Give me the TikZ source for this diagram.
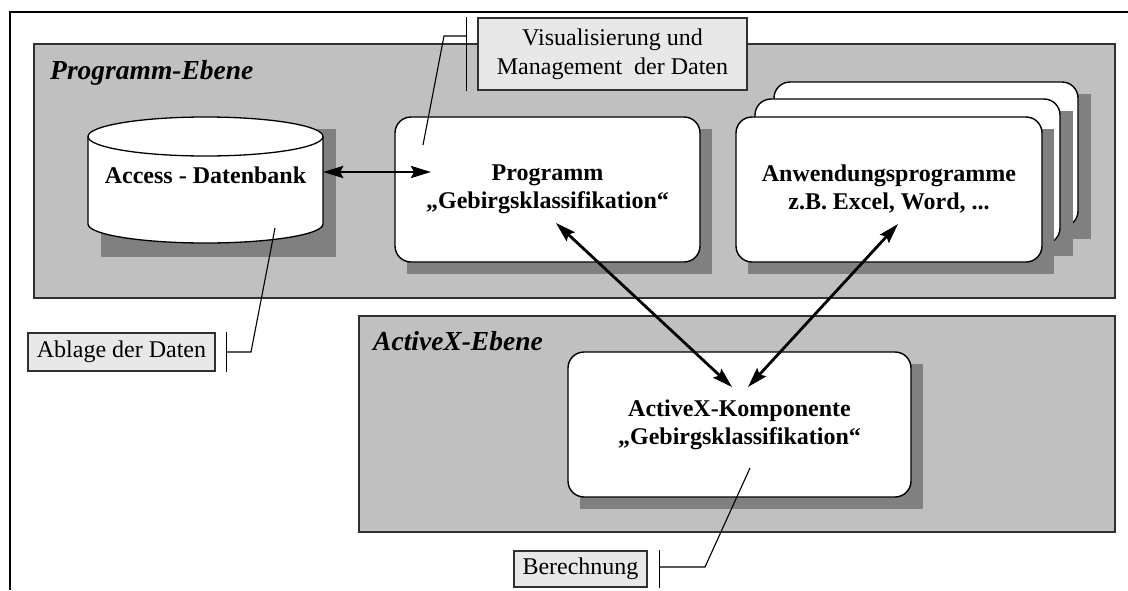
\documentclass[tikz,border=0pt]{standalone}
\usepackage{fontspec}
\setmainfont{Liberation Serif}
\usetikzlibrary{arrows.meta}
\definecolor{layergray}{HTML}{C0C0C0}
\definecolor{shadowgray}{HTML}{808080}
\definecolor{notegray}{HTML}{E8E8E8}
\definecolor{edgegray}{HTML}{303030}
\begin{document}
\begin{tikzpicture}[x=1pt,y=-1pt,
  layer/.style={draw=edgegray, line width=1.3pt, fill=layergray, inner sep=0pt},
  layertitle/.style={anchor=base west, inner sep=0pt, font=\fontsize{27.5}{30}\selectfont\bfseries\itshape},
  card/.style={draw=black, line width=1.4pt, fill=white, rounded corners=16pt, minimum width=305pt, minimum height=145pt, inner sep=0pt, align=center, font=\fontsize{24}{28}\selectfont\bfseries},
  shade/.style={fill=shadowgray},
  note/.style={draw=edgegray, line width=1.2pt, fill=notegray, inner sep=0pt, align=center, font=\fontsize{24}{29}\selectfont},
  leader/.style={draw=black, line width=1.1pt},
  biarrow/.style={line width=2.8pt, {Stealth[length=20pt,width=12pt,inset=3pt]}-{Stealth[length=20pt,width=12pt,inset=3pt]}}
]
\useasboundingbox (0,0) rectangle (1128,590);
\fill[white] (0,0) rectangle (1128,590);

% outer frame
\draw[line width=2.4pt] (1128,12) -- (10,12) -- (10,590);

% layers
\node[layer, minimum width=1081pt, minimum height=254pt] (pe) at (574.5,171) {};
\node[layertitle] (petitle) at (50,79) {Programm-Ebene};
\node[layer, minimum width=756pt, minimum height=216pt] (ae) at (737,424) {};
\node[layertitle] (aetitle) at (373,350) {ActiveX-Ebene};

% database
\fill[shade] (101,129) rectangle (336,257);
\draw[line width=1.3pt, fill=white] (88,136.5) -- (88,224)
  arc[start angle=180, end angle=360, x radius=117.5pt, y radius=19pt]
  -- (323,136.5)
  arc[start angle=0, end angle=180, x radius=117.5pt, y radius=19.5pt] -- cycle;
\draw[line width=1.3pt] (88,136.5) arc[start angle=180, end angle=360, x radius=117.5pt, y radius=19.5pt];
\node[inner sep=0pt, minimum width=235pt, minimum height=126pt] (db) at (205.5,180) {};
\node[anchor=base, inner sep=0pt, font=\fontsize{24}{28}\selectfont\bfseries] (dbtext) at (205.5,183) {Access - Datenbank};

% Programm
\fill[shade] (406.5,129) rectangle (711.5,274);
\node[card] (prog) at (547.5,189.5) {Programm\\„Gebirgsklassifikation“};

% Anwendungsprogramme (stack)
\fill[shade] (785.5,94) rectangle (1090.5,239);
\node[card, minimum width=304pt] (app3) at (926,154.5) {};
\fill[shade] (767,111) rectangle (1073,256);
\node[card] (app2) at (907.5,171.5) {};
\fill[shade] (748,129) rectangle (1054,274);
\node[card, minimum width=306pt] (app1) at (889,189.5) {Anwendungsprogramme\\z.B. Excel, Word, ...};

% ActiveX-Komponente
\fill[shade] (580,364) rectangle (923,509);
\node[card, minimum width=343pt] (axc) at (739.5,424.5) {ActiveX-Komponente\\„Gebirgsklassifikation“};

% notes
\node[note, minimum width=269pt, minimum height=72pt] (visnote) at (612.5,54) {Visualisierung und\\Management\ \ der Daten};
\node[note, minimum width=187pt, minimum height=38pt] (ablnote) at (121.5,352) {Ablage der Daten};
\node[note, minimum width=133pt, minimum height=36pt] (bernote) at (580.5,569) {Berechnung};

% leader lines
\coordinate (visjoin) at (467,36);
\coordinate (visknee) at (444,36);
\coordinate (visend) at (423,145);
\draw[leader] ([xshift=-11pt]visnote.north west) -- ([xshift=-11pt]visnote.south west);
\draw[leader] (visjoin) -- (visknee) -- (visend);

\coordinate (ablknee) at (251,352);
\coordinate (ablend) at (275,228);
\draw[leader] ([xshift=11pt]ablnote.north east) -- ([xshift=11pt]ablnote.south east);
\draw[leader] ([xshift=11pt]ablnote.east) -- (ablknee) -- (ablend);

\coordinate (berknee) at (705,567);
\coordinate (berend) at (750,468);
\draw[leader] ([xshift=11.5pt]bernote.north east) -- ([xshift=11.5pt]bernote.south east);
\draw[leader] ([xshift=11.5pt]bernote.east |- berknee) -- (berknee) -- (berend);

% arrows
\coordinate (progin) at (431,172);
\coordinate (progout) at (556,223);
\coordinate (axin1) at (732,387);
\coordinate (appout) at (898,224);
\coordinate (axin2) at (748,387);
\draw[biarrow] (db.east |- progin) -- (progin);
\draw[biarrow] (progout) -- (axin1);
\draw[biarrow] (appout) -- (axin2);
\end{tikzpicture}
\end{document}
